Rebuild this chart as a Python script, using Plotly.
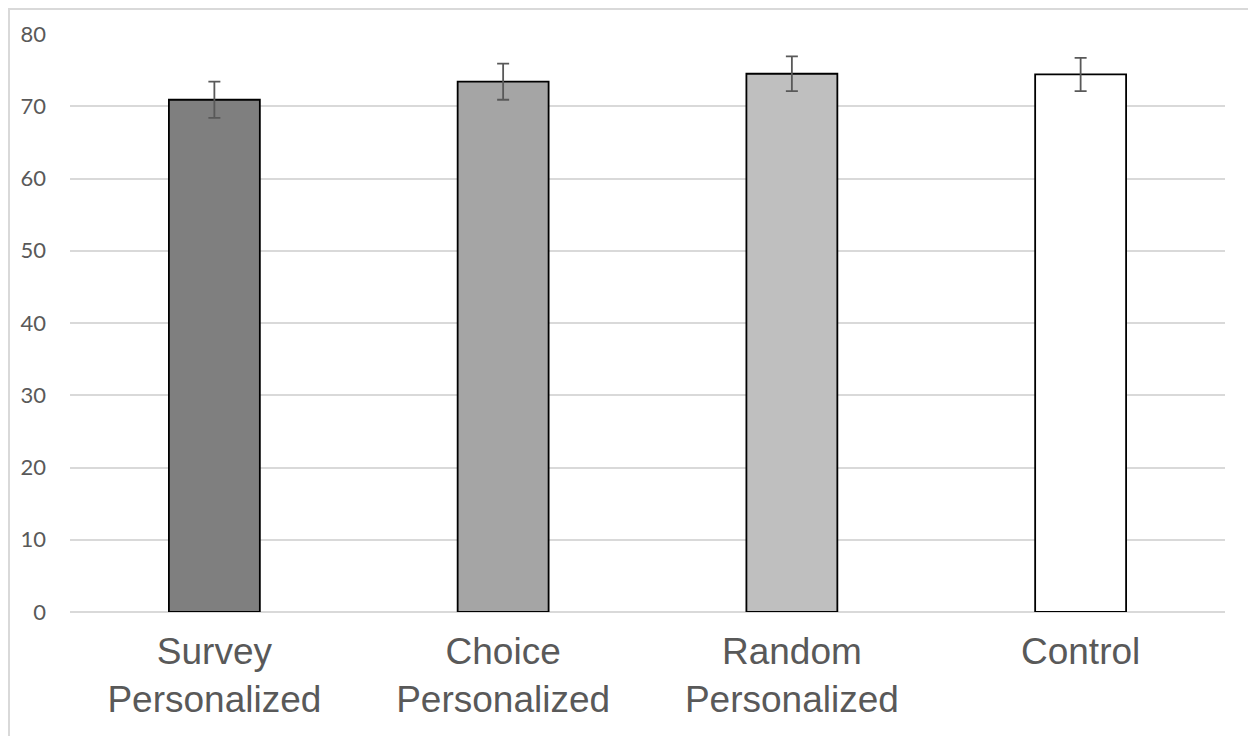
import plotly.graph_objects as go

categories = ["Survey<br>Personalized", "Choice<br>Personalized", "Random<br>Personalized", "Control"]
values = [70.9, 73.4, 74.5, 74.4]
errors = [2.5, 2.5, 2.4, 2.3]
bar_colors = ["#7f7f7f", "#a5a5a5", "#bfbfbf", "#ffffff"]
y_ticks = [0, 10, 20, 30, 40, 50, 60, 70, 80]

fig = go.Figure(go.Bar(
    x=categories, y=values,
    marker=dict(color=bar_colors, line=dict(color="#000000", width=1.8)),
    width=0.315,
    error_y=dict(type="data", array=errors, visible=True, color="#595959", thickness=1.8, width=6),
))

W, H = 1256, 736
L, R, T, B = 62, 39, 26, 132
pw, ph = W - L - R, H - T - B

fig.update_layout(
    width=W, height=H,
    margin=dict(l=L, r=R, t=T, b=B),
    paper_bgcolor="white", plot_bgcolor="white",
    showlegend=False,
    xaxis=dict(range=[-0.5, 3.5], showgrid=False, zeroline=False, showline=False,
               tickfont=dict(family="Liberation Sans, Arial", size=37, color="#595959"),
               ticks="", ticklabelstandoff=14),
    yaxis=dict(range=[0, 80], tickvals=y_ticks, showgrid=True, gridcolor="#d9d9d9", gridwidth=1.5,
               zeroline=True, zerolinecolor="#d9d9d9", zerolinewidth=1.5, showline=False,
               tickfont=dict(family="Lato, Open Sans", size=22, color="#595959"),
               ticks="", ticklabelstandoff=23),
    shapes=[dict(type="rect", xref="paper", yref="paper",
                 x0=-(L - 1) / pw, x1=1 + (R - 2) / pw,
                 y0=-(B + 10) / ph, y1=1 + (T - 1) / ph,
                 line=dict(color="#d9d9d9", width=2), layer="below")],
)

fig.write_html("out.html")
